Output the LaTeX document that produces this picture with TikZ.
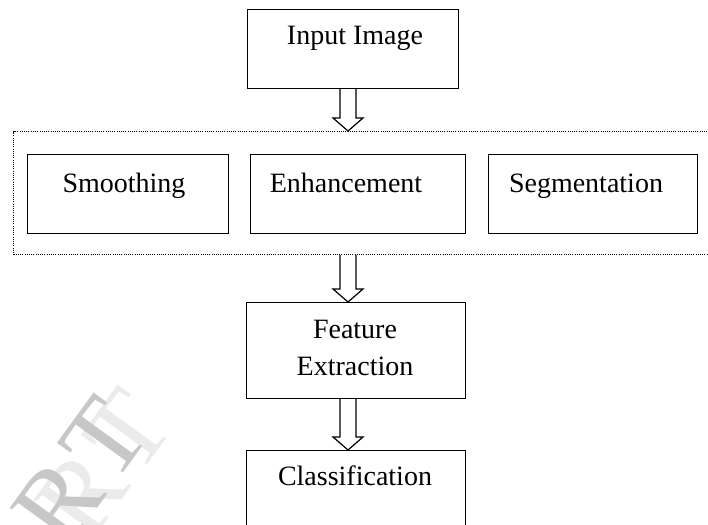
\documentclass[tikz,border=0pt]{standalone}
\usepackage{fontspec}
\setmainfont{Liberation Serif}
\usetikzlibrary{calc}
\begin{document}
\begin{tikzpicture}[x=1pt,y=-1pt,
  box/.style={draw=black,line width=1.2pt,inner sep=0pt,anchor=north west},
  lbl/.style={anchor=base,inner sep=0pt,font=\fontsize{28}{32}\selectfont},
  grpbox/.style={draw=black,line width=1pt,dash pattern=on 1pt off 1.2pt,inner sep=0pt,anchor=north west},
  blockarr/.style={draw=black,line width=1.2pt,fill=white,line join=miter},
  wm/.style={font=\fontsize{108}{108}\selectfont,rotate=54,inner sep=0pt}]
\clip (0,0) rectangle (708,524);
\fill[white] (0,0) rectangle (708,524);
% watermark
\node[wm,text=black!8] (wmark2) at (104,464) {R\hspace{10pt}T};
\node[wm,text=black!22] (wmark) at (80,472) {R\hspace{10pt}T};
% group of preprocessing steps
\node[grpbox,minimum width=700pt,minimum height=123pt] (grp) at (13,131) {};
% boxes
\node[box,minimum width=211pt,minimum height=79pt] (inp) at (247,9) {};
\node[box,minimum width=201pt,minimum height=79pt] (smo) at (27,154) {};
\node[box,minimum width=215pt,minimum height=79pt] (enh) at (250,154) {};
\node[box,minimum width=209pt,minimum height=79pt] (seg) at (488,154) {};
\node[box,minimum width=219pt,minimum height=96pt] (fea) at (246,302) {};
\node[box,minimum width=219pt,minimum height=90pt] (cls) at (246,450) {};
% labels
\node[lbl] (tinp) at (355,45) {Input Image};
\node[lbl] (tsmo) at (124,192) {Smoothing};
\node[lbl] (tenh) at (346,192) {Enhancement};
\node[lbl] (tseg) at (586,192) {Segmentation};
\node[lbl] (tfea1) at (355,338) {Feature};
\node[lbl] (tfea2) at (355,375) {Extraction};
\node[lbl] (tcls) at (355,485) {Classification};
% arrows
\coordinate (ax) at (348,0);
\newcommand{\blockarrow}[2]{%
  \draw[blockarr] let \p1=(#1), \p2=(#2) in
    (\x1-8pt,\y1) -- (\x1-8pt,\y2+13pt) -- (\x1-15pt,\y2+13pt) -- (\x1,\y2)
    -- (\x1+15pt,\y2+13pt) -- (\x1+8pt,\y2+13pt) -- (\x1+8pt,\y1);}
\blockarrow{inp.south -| ax}{grp.north -| ax}
\blockarrow{grp.south -| ax}{fea.north -| ax}
\blockarrow{fea.south -| ax}{cls.north -| ax}
\end{tikzpicture}
\end{document}
